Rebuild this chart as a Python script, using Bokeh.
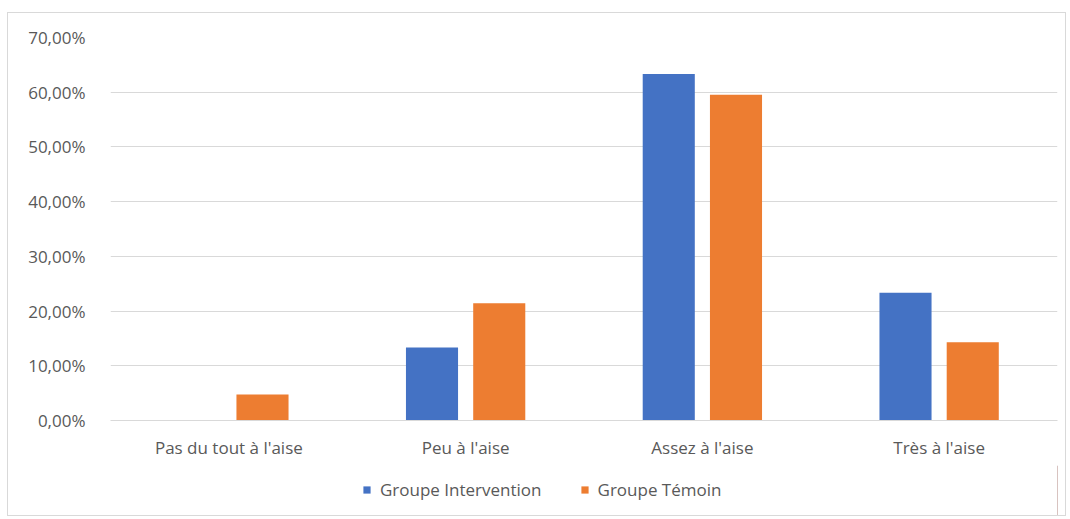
from bokeh.plotting import figure
from bokeh.layouts import column
from bokeh.models import (ColumnDataSource, FactorRange, FixedTicker, CustomJSTickFormatter,
                          Legend, LegendItem, Range1d)
from bokeh.transform import dodge
from bokeh.embed import file_html
from bokeh.resources import INLINE

# Comfort levels reported by each group (percent of respondents)
categories = ["Pas du tout à l'aise", "Peu à l'aise", "Assez à l'aise", "Très à l'aise"]
intervention = [0.0, 13.33, 63.33, 23.33]
temoin = [4.76, 21.43, 59.52, 14.29]
series_names = ["Groupe Intervention", "Groupe Témoin"]
y_ticks = [0, 10, 20, 30, 40, 50, 60, 70]

BLUE = "#4472C4"
ORANGE = "#ED7D31"
GREY_TEXT = "#595959"
GRID = "#d9d9d9"
FONT = "Open Sans"
FONT_SIZE = "17px"

source = ColumnDataSource(dict(cat=categories, inter=intervention, tem=temoin))

# ---- main bar chart ----
p = figure(x_range=FactorRange(*categories), y_range=(0, 70),
           frame_width=947, frame_height=383, output_backend="svg", toolbar_location=None,
           min_border_left=102, min_border_right=8, min_border_top=24, min_border_bottom=45)
p.outline_line_color = None
p.background_fill_color = "white"
p.border_fill_color = "white"

bar_w = 0.22
r1 = p.vbar(x=dodge("cat", -0.142, range=p.x_range), top="inter", width=bar_w,
            source=source, color=BLUE, line_color=None)
r2 = p.vbar(x=dodge("cat", 0.142, range=p.x_range), top="tem", width=bar_w,
            source=source, color=ORANGE, line_color=None)

# y axis: percentage labels with comma decimals
p.yaxis.ticker = FixedTicker(ticks=y_ticks)
p.yaxis.formatter = CustomJSTickFormatter(
    code="return tick.toFixed(2).replace('.', ',') + '%';")
p.yaxis.axis_line_color = None
p.yaxis.major_tick_line_color = None
p.yaxis.minor_tick_line_color = None
p.yaxis.major_label_standoff = 19
p.yaxis.major_label_text_font = FONT
p.yaxis.major_label_text_font_size = FONT_SIZE
p.yaxis.major_label_text_color = GREY_TEXT

p.xaxis.axis_line_color = GRID
p.xaxis.major_tick_line_color = None
p.xaxis.minor_tick_line_color = None
p.xaxis.major_label_standoff = 9
p.xaxis.major_label_text_font = FONT
p.xaxis.major_label_text_font_size = FONT_SIZE
p.xaxis.major_label_text_color = GREY_TEXT

p.xgrid.grid_line_color = None
p.ygrid.grid_line_color = GRID
p.ygrid.grid_line_width = 1

# ---- legend strip under the chart (its frame lines up with the chart frame) ----
leg = figure(width=1057, height=50, x_range=Range1d(0, 1), y_range=Range1d(0, 1),
             output_backend="svg", toolbar_location=None,
             x_axis_location=None, y_axis_location=None,
             min_border_left=0, min_border_right=0, min_border_top=0, min_border_bottom=0)
leg.outline_line_color = None
leg.grid.visible = False
leg.background_fill_color = "white"
leg.border_fill_color = "white"
# swatch renderers sit outside the visible range; only their legend squares show
k1 = leg.vbar(x=[5], top=[1], width=0.1, color=BLUE, line_color=None)
k2 = leg.vbar(x=[5], top=[1], width=0.1, color=ORANGE, line_color=None)

legend = Legend(items=[LegendItem(label=series_names[0], renderers=[k1]),
                       LegendItem(label=series_names[1], renderers=[k2])],
                orientation="horizontal", location=(252, 14),
                glyph_width=9, glyph_height=9, spacing=38, label_standoff=9,
                label_text_font=FONT, label_text_font_size=FONT_SIZE,
                label_text_color=GREY_TEXT, border_line_color=None,
                background_fill_alpha=0, margin=0, padding=0)
leg.add_layout(legend)

# light frame around the whole chart
chart = column(p, leg, spacing=0)
chart.margin = (12, 0, 0, 7)
chart.styles = {"border": "1px solid #d9d9d9", "background-color": "white"}

open("out.html", "w").write(file_html(chart, INLINE))
